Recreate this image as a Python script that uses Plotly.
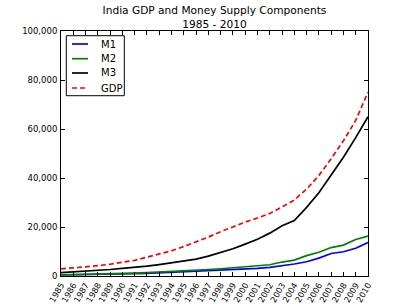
import plotly.graph_objects as go

years = list(range(1985, 2011))
year_labels = [str(y) for y in years]

m1 = [400, 450, 520, 600, 700, 800, 950, 1100, 1300, 1550, 1750, 1950, 2150,
      2400, 2650, 2900, 3100, 3500, 4100, 4900, 5800, 7300, 9200, 9900, 11300, 13700]
m2 = [500, 570, 650, 740, 850, 980, 1150, 1350, 1550, 1850, 2100, 2350, 2650,
      2950, 3300, 3700, 4100, 4600, 5700, 6500, 8300, 9700, 11600, 12600, 14900, 16300]
m3 = [1400, 1650, 1950, 2250, 2650, 3100, 3500, 4000, 4650, 5400, 6100, 6900, 8100,
      9600, 11100, 13000, 15000, 17500, 20500, 22600, 28000, 34000, 41000, 48500, 56500, 65000]
gdp = [2900, 3250, 3650, 4200, 4800, 5500, 6400, 7700, 8900, 10300, 12000, 13900, 15900,
       18100, 20200, 22000, 23700, 25500, 28200, 31000, 35500, 41000, 47900, 55200, 63500, 75000]

y_ticks = [0, 20000, 40000, 60000, 80000, 100000]

series_names = ["M1", "M2", "M3", "GDP"]
series_values = [m1, m2, m3, gdp]
series_colors = ["#0000ff", "#008000", "#000000", "#ff0000"]
series_dash = ["solid", "solid", "solid", "5px,3px"]

fig = go.Figure()
for name, vals, col, dsh in zip(series_names, series_values, series_colors, series_dash):
    fig.add_trace(go.Scatter(x=years, y=vals, name=name, mode="lines",
                             line=dict(color=col, width=1.7, dash=dsh)))

# compact matplotlib-style legend drawn in paper coordinates
shapes = [dict(type="rect", xref="paper", yref="paper",
               x0=0.0173, x1=0.2062, y0=0.7359, y1=0.9808,
               line=dict(color="black", width=1), fillcolor="white", layer="above")]
annotations = []
row_y = [0.9469, 0.8869, 0.8286, 0.7673]
for name, col, dsh, ry in zip(series_names, series_colors, series_dash, row_y):
    shapes.append(dict(type="line", xref="paper", yref="paper",
                       x0=0.0358, x1=0.0879, y0=ry, y1=ry,
                       line=dict(color=col, width=1.7, dash=dsh), layer="above"))
    annotations.append(dict(xref="paper", yref="paper", x=0.1238, y=ry,
                            xanchor="left", yanchor="middle", text=name,
                            showarrow=False, font=dict(size=10)))

fig.update_layout(
    width=409, height=307,
    margin=dict(l=61, r=41, t=31, b=31, autoexpand=False),
    paper_bgcolor="white", plot_bgcolor="white",
    font=dict(family="DejaVu Sans", size=10, color="black"),
    title=dict(text="India GDP and Money Supply Components<br>1985 - 2010",
               x=0.5, xref="paper", xanchor="center",
               y=0.943, yref="container", yanchor="bottom", pad=dict(b=3),
               font=dict(size=10.6)),
    showlegend=False,
    shapes=shapes,
    annotations=annotations,
)
fig.update_xaxes(range=[1985, 2010], tickvals=years, ticktext=year_labels,
                 tickangle=-60, ticks="inside", ticklen=4, tickcolor="black",
                 showline=True, linecolor="black", linewidth=1, mirror="ticks",
                 showgrid=False, zeroline=False, tickfont=dict(size=8.3),
                 automargin=False)
fig.update_yaxes(range=[0, 100000], tickvals=y_ticks, tickformat=",",
                 ticks="inside", ticklen=4, tickcolor="black",
                 showline=True, linecolor="black", linewidth=1, mirror="ticks",
                 showgrid=False, zeroline=False, tickfont=dict(size=8.5),
                 ticklabelstandoff=1, automargin=False)

fig.write_html("out.html", config={"displayModeBar": False},
               post_script="document.body.style.margin='0';document.body.style.overflow='hidden';")
